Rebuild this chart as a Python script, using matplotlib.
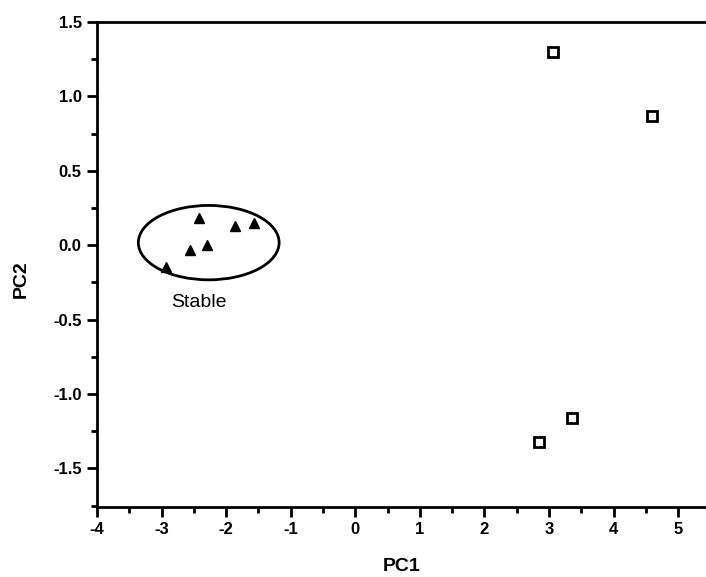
import matplotlib
matplotlib.use("Agg")
import matplotlib.pyplot as plt
from matplotlib.patches import Ellipse
from matplotlib.ticker import MultipleLocator

plt.rcParams['font.family'] = ['Liberation Sans', 'DejaVu Sans']
plt.rcParams['axes.unicode_minus'] = False

# Data
stable_pc1 = [-2.42, -1.86, -1.57, -2.56, -2.30, -2.93]
stable_pc2 = [0.18, 0.13, 0.15, -0.03, 0.00, -0.15]
other_pc1 = [3.06, 4.59, 2.84, 3.35]
other_pc2 = [1.30, 0.87, -1.32, -1.16]
xticks = [-4, -3, -2, -1, 0, 1, 2, 3, 4, 5]
yticks = [-1.5, -1.0, -0.5, 0.0, 0.5, 1.0, 1.5]

fig = plt.figure(figsize=(7.06, 5.77), dpi=100)
ax = fig.add_axes([0.1374, 0.1213, 0.8626, 0.8406])

ax.plot(stable_pc1, stable_pc2, linestyle='none', marker='^', markersize=7.5,
        color='black')
ax.plot(other_pc1, other_pc2, linestyle='none', marker='s', markersize=7.5,
        markerfacecolor='white', markeredgecolor='black', markeredgewidth=2)

ell = Ellipse((-2.27, 0.017), width=2.18, height=0.50, fill=False,
              edgecolor='black', linewidth=2)
ax.add_patch(ell)
ax.text(-2.42, -0.385, 'Stable', ha='center', va='center', fontsize=14)

ax.set_xlim(-4, 5.43)
ax.set_ylim(-1.76, 1.5)
ax.set_xticks(xticks)
ax.set_xticklabels([f'{t:d}' for t in xticks], fontweight='bold', fontsize=12)
ax.set_yticks(yticks)
ax.set_yticklabels([f'{t:.1f}' for t in yticks], fontweight='bold', fontsize=12)
ax.xaxis.set_minor_locator(MultipleLocator(0.5))
ax.yaxis.set_minor_locator(MultipleLocator(0.25))
ax.tick_params(which='major', direction='out', length=7, width=2, pad=4)
ax.tick_params(which='minor', direction='out', length=4, width=2)

for s in ['left', 'bottom', 'top']:
    ax.spines[s].set_linewidth(2)
ax.spines['right'].set_visible(False)

ax.set_xlabel('PC1', fontweight='bold', fontsize=14)
ax.set_ylabel('PC2', fontweight='bold', fontsize=14)
ax.xaxis.set_label_coords(0.5, -0.105)
ax.yaxis.set_label_coords(-0.11, 0.47)

fig.savefig('out.png', dpi=100)
